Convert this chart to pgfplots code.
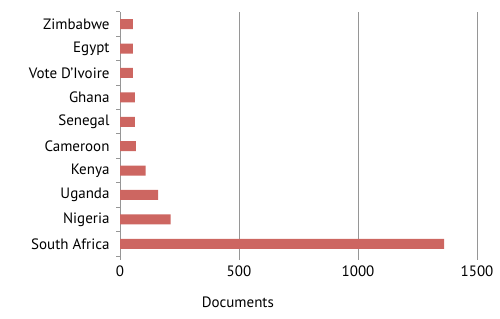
\documentclass[border=0pt]{standalone}
\usepackage{fontspec}
\setmainfont{PT Sans}
\usepackage{pgfplots}
\pgfplotsset{compat=1.18}
\definecolor{barred}{RGB}{205,102,97}
\definecolor{gridgray}{RGB}{150,150,150}
\begin{document}
\begin{tikzpicture}
\useasboundingbox (0,0) rectangle (500bp,319bp);
\begin{axis}[
  at={(120bp,63bp)}, anchor=south west,
  scale only axis, width=357bp, height=244bp,
  xmin=0, xmax=1500, ymin=-0.5, ymax=9.5,
  xbar, bar width=10bp,
  axis lines*=left,
  x axis line style={draw=none},
  y axis line style={gridgray, line width=1pt},
  xtick={0,500,1000,1500},
  xmajorgrids, major grid style={gridgray, line width=1pt},
  ytick={0,...,9},
  yticklabels={South Africa,Nigeria,Uganda,Kenya,Cameroon,Senegal,Ghana,Vote D'Ivoire,Egypt,Zimbabwe},
  minor ytick={-0.5,0.5,...,9.5},
  major tick length=4bp, minor tick length=4bp,
  tick align=outside,
  major y tick style={draw=none},
  x tick style={gridgray, line width=1pt},
  minor y tick style={gridgray, line width=1pt},
  /pgf/number format/assume math mode=true,
  /pgf/number format/1000 sep={},
  tick label style={font=\fontsize{15bp}{17bp}\selectfont, black},
  yticklabel style={xshift=-3bp},
  xticklabel style={yshift=-2bp},
  xlabel={Documents},
  xlabel style={font=\fontsize{15bp}{17bp}\selectfont, at={(axis description cs:0.33,-0.19)}, anchor=center},
  clip=false,
]
\addplot[fill=barred, draw=none] coordinates {
(1362,0) (213,1) (160,2) (108,3) (67,4) (62,5) (62,6) (54,7) (54,8) (54,9)};
\end{axis}
\end{tikzpicture}
\end{document}
